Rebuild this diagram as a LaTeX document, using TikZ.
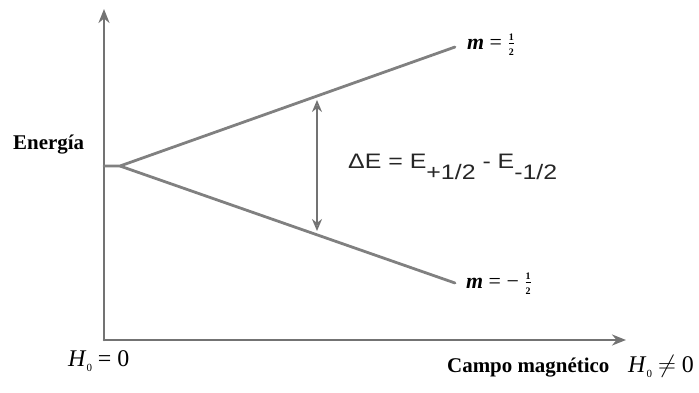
\documentclass[tikz,border=0pt]{standalone}
\usepackage{fontspec}
\usepackage{amsmath}
\usetikzlibrary{arrows.meta}
\setmainfont{Liberation Serif}
\newfontfamily\arialfont{Liberation Sans}
\newcommand{\sbx}[1]{\raisebox{-0.55em}{#1}}
\newcommand{\hsub}{\textit{H}\raisebox{-0.45ex}{\fontsize{11}{12}\selectfont 0}}
\newcommand{\halfm}{\raisebox{0.1ex}{$\tfrac{\text{\fontsize{10}{10}\selectfont\bfseries 1}}{\text{\fontsize{10}{10}\selectfont\bfseries 2}}$}}
\begin{document}
\begin{tikzpicture}[x=1bp, y=-1bp, line join=round, line cap=round, >={Stealth[length=14bp,width=11bp]},
		axis/.style={draw=black!55, line width=2.6bp},
		level/.style={draw=black!50, line width=2.8bp},
		lbl/.style={font=\fontsize{21}{24}\selectfont\bfseries, inner sep=0pt},
		hlbl/.style={font=\fontsize{24}{26}\selectfont, inner sep=0pt},
		mlbl/.style={font=\fontsize{22}{24}\selectfont, inner sep=0pt}]
	\useasboundingbox (0,0) rectangle (699,392);
	\path
	(104,340) coordinate (O)
	(104,9) coordinate (Ytop)
	(626,340) coordinate (Xend)
	(104,166) coordinate (S)
	(120,166) coordinate (B)
	(455,47) coordinate (U)
	(455,283) coordinate (D)
	(317,100) coordinate (Atop)
	(317,231) coordinate (Abot)
	;
	% ejes
	\draw[axis,->] (O)--(Ytop);
	\draw[axis,->] (O)--(Xend);
	% niveles
	\draw[level] (S)--(B)--(U);
	\draw[level] (B)--(D);
	\draw[draw=black!55, line width=1.8bp, {Stealth[length=12bp,width=10bp,open]}-{Stealth[length=12bp,width=10bp,open]}] (Atop)--(Abot);
	% textos
	\node[lbl, anchor=west] (en) at (13,145) {Energía};
	\node[hlbl, anchor=west] (h0) at (68,361) {\hsub\ = 0};
	\node[lbl, anchor=west] (campo) at (447,368) {Campo magnético};
	\node[hlbl, anchor=west] (h1) at (628,366) {\hsub\ $\neq$ 0};
	\node[mlbl, anchor=west] (mu) at (467,45) {\textbf{\textit{m}} = \halfm};
	\node[mlbl, anchor=west] (md) at (466,284) {\textbf{\textit{m}} = − \halfm};
	\node[anchor=base west, inner sep=0pt, xscale=1.19, font=\arialfont\fontsize{21}{24}\selectfont, text=black!85] (de) at (348,168) {ΔE = E\sbx{+1/2} - E\sbx{-1/2}};
\end{tikzpicture}
\end{document}
